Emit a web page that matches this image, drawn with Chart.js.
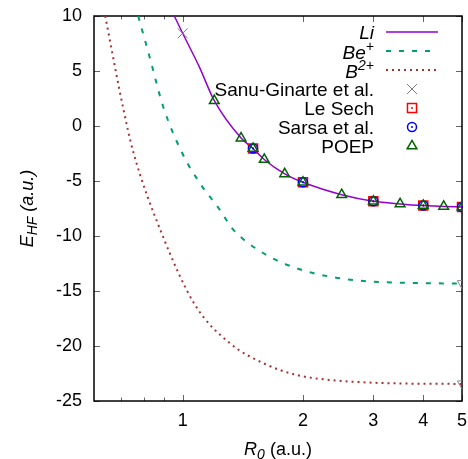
<!DOCTYPE html>
<html>
<head>
<meta charset="utf-8">
<script src="https://cdn.jsdelivr.net/npm/chart.js@4/dist/chart.umd.min.js"></script>
<style>
  html, body { margin: 0; padding: 0; background: #fff; }
  #c { display: block; }
</style>
</head>
<body>
<canvas id="c" width="468" height="459"></canvas>
<script>
// Hartree-Fock energies of confined three-electron ions versus cavity radius R0
const LI_R = [0.953, 1.0, 1.1, 1.2, 1.4, 1.5, 1.6, 1.8, 2.0, 2.5, 3.0, 3.5, 4.0, 4.5, 5.0];
const LI_E = [10.0, 8.43, 5.4, 2.3, -1.1, -2.05, -3.05, -4.35, -5.12, -6.25, -6.84, -7.08, -7.23, -7.31, -7.37];

const BE_R = [0.774, 0.828, 0.894, 1.0, 1.105, 1.24, 1.33, 1.593, 1.93, 2.34, 2.84, 3.44, 5.0];
const BE_E = [10.0, 6.18, 1.75, -2.55, -5.21, -7.64, -9.3, -11.57, -12.94, -13.7, -14.09, -14.24, -14.33];

const B_R = [0.64, 0.71, 0.751, 0.886, 1.074, 1.314, 1.593, 1.93, 2.34, 2.84, 3.44, 5.0];
const B_E = [10.0, 1.61, -2.25, -9.75, -16.27, -19.76, -21.57, -22.64, -23.09, -23.3, -23.4, -23.45];

const SG_R = [1.0];
const SG_E = [8.43];

const LS_R = [1.5, 2.0, 3.0, 4.0, 5.0];
const LS_E = [-2.05, -5.12, -6.84, -7.23, -7.37];

const SA_R = [1.5, 2.0, 3.0, 4.0, 5.0];
const SA_E = [-2.05, -5.12, -6.84, -7.23, -7.37];

const POEP_R = [1.2, 1.4, 1.5, 1.6, 1.8, 2.0, 2.5, 3.0, 3.5, 4.0, 4.5, 5.0];
const POEP_E = [2.3, -1.1, -2.05, -3.05, -4.35, -5.12, -6.25, -6.84, -7.08, -7.23, -7.31, -7.37];

// free-ion limits
const LIMIT_R = [5.0, 5.0];
const LIMIT_E = [-14.3, -23.42];

const X_TICKS = [0.7, 0.8, 0.9, 1, 2, 3, 4, 5];
const X_LABELED = [1, 2, 3, 4, 5];
const Y_TICKS = [-25, -20, -15, -10, -5, 0, 5, 10];

const FONT = '"Liberation Sans", Arial, Helvetica, sans-serif';

const pts = (xs, ys) => xs.map((x, i) => ({ x: x, y: ys[i] }));

const datasets = [
  { label: 'Li', legendParts: [{ t: 'Li', i: true }], data: pts(LI_R, LI_E),
    borderColor: '#9400d3', borderWidth: 1.5, pointRadius: 0, cubicInterpolationMode: 'monotone', order: 7 },
  { label: 'Be+', legendParts: [{ t: 'Be', i: true }, { t: '+', i: true, sup: true }], data: pts(BE_R, BE_E),
    borderColor: '#009e73', borderWidth: 2, borderDash: [5, 8], pointRadius: 0, cubicInterpolationMode: 'monotone', order: 6 },
  { label: 'B2+', legendParts: [{ t: 'B', i: true }, { t: '2+', i: true, sup: true }], data: pts(B_R, B_E),
    borderColor: '#a83232', borderWidth: 2, borderDash: [2, 4], pointRadius: 0, cubicInterpolationMode: 'monotone', order: 5 },
  { label: 'Sanu-Ginarte et al.', legendParts: [{ t: 'Sanu-Ginarte et al.' }], data: pts(SG_R, SG_E), showLine: false,
    pointStyle: 'crossRot', pointRadius: 7, borderColor: '#777', borderWidth: 1, order: 4 },
  { label: 'Le Sech', legendParts: [{ t: 'Le Sech' }], data: pts(LS_R, LS_E), showLine: false, centerDot: true,
    pointStyle: 'rect', pointRadius: 6.4, borderColor: '#ff0000', backgroundColor: 'rgba(0,0,0,0)', borderWidth: 1.5, order: 3 },
  { label: 'Sarsa et al.', legendParts: [{ t: 'Sarsa et al.' }], data: pts(SA_R, SA_E), showLine: false, centerDot: true,
    pointStyle: 'circle', pointRadius: 4.5, borderColor: '#0000ff', backgroundColor: 'rgba(0,0,0,0)', borderWidth: 1.5, order: 2 },
  { label: 'POEP', legendParts: [{ t: 'POEP' }], data: pts(POEP_R, POEP_E), showLine: false,
    pointStyle: 'triangle', pointRadius: 5.6, borderColor: '#006400', backgroundColor: 'rgba(0,0,0,0)', borderWidth: 1.5, order: 1 },
  { label: 'limits', noLegend: true, data: pts(LIMIT_R, LIMIT_E), showLine: false,
    pointStyle: 'triangle', pointRotation: 180, pointRadius: 5.4, borderColor: '#888', backgroundColor: 'rgba(0,0,0,0)', borderWidth: 1, order: 0 }
];

// draws a run of text pieces (italic / superscript / subscript) along one baseline
function drawRich(ctx, parts, x, y, align, size) {
  const subSize = Math.round(size * 0.75);
  const fontOf = p => (p.i ? 'italic ' : '') + ((p.sup || p.sub) ? subSize : size) + 'px ' + FONT;
  let total = 0;
  parts.forEach(p => { ctx.font = fontOf(p); total += ctx.measureText(p.t).width; });
  let cx = align === 'right' ? x - total : (align === 'center' ? x - total / 2 : x);
  ctx.textAlign = 'left';
  ctx.textBaseline = 'alphabetic';
  parts.forEach(p => {
    ctx.font = fontOf(p);
    const dy = p.sup ? -8 : (p.sub ? 4 : 0);
    ctx.fillText(p.t, cx, y + dy);
    cx += ctx.measureText(p.t).width;
  });
}

// fixed axis box so the plot area lands where the layout wants it
function fixBox(s, size) {
  if (s.isHorizontal()) s.height = size; else s.width = size;
  s.paddingLeft = s.paddingRight = s.paddingTop = s.paddingBottom = 0;
}

const framePlugin = {
  id: 'frame',
  beforeDatasetsDraw(chart) {
    const { ctx, chartArea: a, scales } = chart;
    ctx.save();
    ctx.strokeStyle = '#666';
    ctx.lineWidth = 1;
    ctx.beginPath();
    Y_TICKS.forEach(v => {
      const y = Math.round(scales.y.getPixelForValue(v)) + 0.5;
      ctx.moveTo(a.left, y); ctx.lineTo(a.left + 6, y);
      ctx.moveTo(a.right, y); ctx.lineTo(a.right - 6, y);
    });
    X_TICKS.forEach(v => {
      const x = Math.round(scales.x.getPixelForValue(v)) + 0.5;
      const len = X_LABELED.includes(v) ? 6 : 3.5;
      ctx.moveTo(x, a.bottom); ctx.lineTo(x, a.bottom - len);
      ctx.moveTo(x, a.top); ctx.lineTo(x, a.top + len);
    });
    ctx.stroke();
    ctx.strokeStyle = '#000';
    ctx.lineWidth = 1.5;
    ctx.strokeRect(a.left, a.top, a.right - a.left, a.bottom - a.top);
    ctx.restore();
  },
  afterDatasetsDraw(chart) {
    const ctx = chart.ctx;
    ctx.save();
    chart.data.datasets.forEach((ds, i) => {
      if (!ds.centerDot) return;
      ctx.fillStyle = ds.borderColor;
      chart.getDatasetMeta(i).data.forEach(el => {
        ctx.beginPath(); ctx.arc(el.x, el.y, 1, 0, Math.PI * 2); ctx.fill();
      });
    });
    ctx.restore();
  },
  afterDraw(chart) {
    const { ctx, chartArea: a } = chart;
    ctx.save();
    ctx.fillStyle = '#000';
    // axis titles
    drawRich(ctx, [{ t: 'R', i: true }, { t: '0', i: true, sub: true }, { t: ' (a.u.)' }],
      (a.left + a.right) / 2, 455, 'center', 18);
    ctx.save();
    ctx.translate(33, (a.top + a.bottom) / 2);
    ctx.rotate(-Math.PI / 2);
    drawRich(ctx, [{ t: 'E', i: true }, { t: 'HF', i: true, sub: true }, { t: ' (a.u.)', i: true }], 0, 0, 'center', 18);
    ctx.restore();

    // key: labels right-aligned, samples to the right
    const textRight = 374, sx0 = 386, sx1 = 438, sxm = 412;
    let row = 0;
    chart.data.datasets.forEach(ds => {
      if (ds.noLegend) return;
      const y = 32 + row * 19;
      const rich = ds.legendParts.some(p => p.sup);
      ctx.fillStyle = '#000';
      drawRich(ctx, ds.legendParts, textRight, y + (rich ? 7.5 : 6.5), 'right', 19);
      if (ds.showLine === false) {
        ctx.strokeStyle = ds.borderColor;
        ctx.fillStyle = 'rgba(0,0,0,0)';
        ctx.lineWidth = ds.borderWidth;
        Chart.helpers.drawPoint(ctx, { pointStyle: ds.pointStyle, radius: ds.pointRadius, rotation: ds.pointRotation || 0, borderWidth: ds.borderWidth }, sxm, y);
        if (ds.centerDot) {
          ctx.fillStyle = ds.borderColor;
          ctx.beginPath(); ctx.arc(sxm, y, 1, 0, Math.PI * 2); ctx.fill();
        }
      } else {
        ctx.strokeStyle = ds.borderColor;
        ctx.lineWidth = ds.borderWidth;
        ctx.setLineDash(ds.borderDash || []);
        ctx.beginPath(); ctx.moveTo(sx0, y); ctx.lineTo(sx1, y); ctx.stroke();
        ctx.setLineDash([]);
      }
      row++;
    });
    ctx.restore();
  }
};

new Chart(document.getElementById('c'), {
  type: 'line',
  data: { datasets: datasets },
  plugins: [framePlugin],
  options: {
    responsive: false,
    animation: false,
    layout: { autoPadding: false, padding: { top: 16, right: 6, left: 0, bottom: 0 } },
    plugins: { legend: { display: false }, tooltip: { enabled: false } },
    scales: {
      x: {
        type: 'logarithmic', min: 0.6, max: 5,
        grid: { display: false, drawTicks: false }, border: { display: false },
        afterBuildTicks: s => { s.ticks = X_TICKS.map(v => ({ value: v })); },
        afterFit: s => fixBox(s, 58),
        ticks: {
          autoSkip: false, maxRotation: 0, padding: 9, color: '#000',
          font: { family: FONT, size: 18 },
          callback: v => (X_LABELED.includes(v) ? String(v) : '')
        }
      },
      y: {
        min: -25, max: 10,
        grid: { display: false, drawTicks: false }, border: { display: false },
        afterBuildTicks: s => { s.ticks = Y_TICKS.map(v => ({ value: v })); },
        afterFit: s => fixBox(s, 94),
        ticks: { padding: 12, color: '#000', font: { family: FONT, size: 18 } }
      }
    }
  }
});
</script>
</body>
</html>
